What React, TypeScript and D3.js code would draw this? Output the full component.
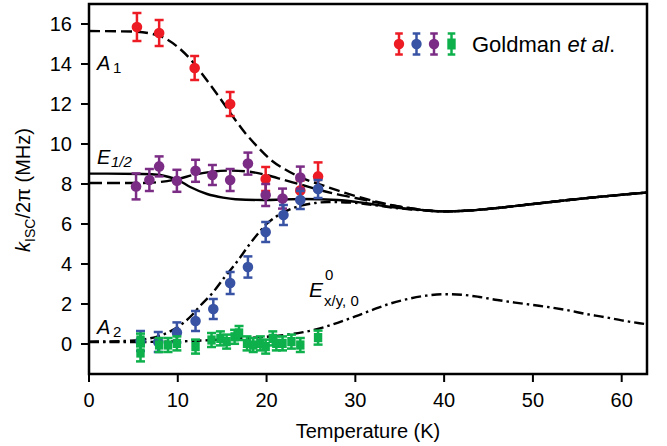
import React from 'react';
import * as d3 from 'd3';

// ---------- axis ticks ----------
const xTicks = [0, 10, 20, 30, 40, 50, 60];
const yTicks = [0, 2, 4, 6, 8, 10, 12, 14, 16];

// ---------- model curves (Temperature K, k/2π MHz) ----------
const tailT = [40, 43, 46, 50, 54, 58, 63];
const tailK = [6.63, 6.68, 6.8, 7.0, 7.2, 7.38, 7.58];

const a1T = [0, 5, 7, 8.5, 10, 11.5, 13, 14.5, 16, 17.5, 19, 20.5, 22, 24, 26, 28, 30, 33, 36];
const a1K = [15.65, 15.62, 15.52, 15.3, 14.85, 14.2, 13.35, 12.45, 11.5, 10.6, 9.85, 9.2, 8.75, 8.3, 7.98, 7.68, 7.4, 7.05, 6.8];

const eSolidT = [0, 6, 8, 9, 10, 11.4, 13.3, 15.1, 16.5, 19.6, 24, 28, 31, 34, 37];
const eSolidK = [8.52, 8.5, 8.45, 8.35, 8.2, 7.85, 7.5, 7.32, 7.24, 7.2, 7.25, 7.2, 7.05, 6.85, 6.72];

const eDashT = [0, 6, 8, 10, 12, 14, 16, 18, 20, 22, 24, 26, 28, 30, 33, 36];
const eDashK = [8.05, 8.05, 8.1, 8.25, 8.48, 8.62, 8.67, 8.62, 8.45, 8.2, 7.95, 7.7, 7.48, 7.3, 7.02, 6.8];

const a2T = [0, 4, 6, 7.6, 9, 10, 11.5, 12.5, 14, 15.2, 16.3, 17.3, 18.1, 19, 20, 21, 22, 23, 24, 25.5, 27, 29.5, 32, 35, 38];
const a2K = [0.12, 0.15, 0.22, 0.36, 0.6, 0.85, 1.4, 1.9, 2.6, 3.3, 3.9, 4.5, 5.0, 5.5, 6.0, 6.35, 6.6, 6.8, 6.93, 7.05, 7.1, 7.07, 6.95, 6.78, 6.67];

const exyT = [0, 5, 10, 14, 17, 20, 22, 24, 26, 28, 30, 32, 34, 36, 38, 40, 42, 44, 46, 48, 50, 52, 54, 56, 58, 60, 62, 63];
const exyK = [0.1, 0.1, 0.13, 0.2, 0.28, 0.36, 0.45, 0.58, 0.78, 1.06, 1.38, 1.72, 2.03, 2.26, 2.42, 2.49, 2.46, 2.35, 2.2, 2.07, 1.95, 1.83, 1.68, 1.5, 1.35, 1.18, 1.04, 0.98];

// ---------- Goldman et al. data ----------
const redT = [5.4, 7.9, 11.9, 15.9, 19.9, 23.8, 25.8];
const redK = [15.85, 15.55, 13.8, 12.0, 8.25, 7.68, 8.38];
const redErr = [0.7, 0.65, 0.6, 0.6, 0.6, 0.5, 0.7];

const purpleT = [5.3, 6.8, 7.9, 9.9, 12.0, 13.9, 15.9, 17.9, 19.9, 21.8, 23.8];
const purpleK = [7.88, 8.2, 8.88, 8.16, 8.66, 8.45, 8.2, 9.02, 7.45, 7.27, 8.32];
const purpleErr = [0.65, 0.55, 0.5, 0.55, 0.55, 0.5, 0.55, 0.55, 0.55, 0.5, 0.55];

const blueT = [5.8, 7.8, 9.9, 12.0, 14.0, 15.9, 17.9, 19.9, 21.9, 23.8, 25.8];
const blueK = [0.15, 0.1, 0.58, 1.15, 1.75, 3.05, 3.85, 5.6, 6.45, 7.2, 7.75];
const blueErr = [0.5, 0.5, 0.5, 0.5, 0.5, 0.55, 0.53, 0.5, 0.5, 0.45, 0.45];

const greenT = [5.8, 5.8, 7.9, 8.9, 9.9, 12.0, 13.8, 14.8, 15.5, 16.4, 16.9, 17.8, 18.5, 19.3, 19.9, 20.7, 21.1, 21.8, 22.8, 23.8, 25.8];
const greenK = [0.2, -0.45, -0.05, -0.05, 0.03, -0.13, 0.2, 0.28, 0.12, 0.36, 0.55, 0.03, -0.05, 0.03, -0.13, 0.28, 0.03, 0.03, 0.12, -0.05, 0.32];
const greenErr = [0.32, 0.42, 0.35, 0.35, 0.35, 0.35, 0.35, 0.35, 0.35, 0.35, 0.35, 0.35, 0.35, 0.35, 0.35, 0.35, 0.35, 0.35, 0.35, 0.35, 0.35];

const RED = '#ED1C24';
const BLUE = '#3953A4';
const PURPLE = '#7B2C85';
const GREEN = '#0DB04B';

const FONT = '"Liberation Sans", Arial, Helvetica, sans-serif';

function zip(a: number[], b: number[]): [number, number][] {
  return a.map((v, i) => [v, b[i]]);
}

export default function App() {
  const x = d3.scaleLinear().domain([0, 62.85]).range([89, 647]);
  const y = d3.scaleLinear().domain([-1.5, 17]).range([374, 4]);
  const line = d3
    .line<[number, number]>()
    .x((d) => x(d[0]))
    .y((d) => y(d[1]))
    .curve(d3.curveMonotoneX);

  const withTail = (t: number[], k: number[]) => zip(t.concat(tailT), k.concat(tailK));

  const curves = [
    { d: withTail(a1T, a1K), dash: '11,5' },
    { d: withTail(eDashT, eDashK), dash: '13,5' },
    { d: withTail(eSolidT, eSolidK), dash: '' },
    { d: withTail(a2T, a2K), dash: '10,4,2.5,4' },
    { d: zip(exyT, exyK), dash: '10,4,2.5,4' },
  ];

  const circlePts = (t: number[], k: number[], e: number[], color: string, key: string) =>
    t.map((tv, i) => {
      const cx = x(tv);
      const cy = y(k[i]);
      const y1 = y(k[i] + e[i]);
      const y2 = y(k[i] - e[i]);
      return (
        <g key={key + i}>
          <line x1={cx} x2={cx} y1={y1} y2={y2} stroke={color} strokeWidth={2.5} />
          <line x1={cx - 4.5} x2={cx + 4.5} y1={y1} y2={y1} stroke={color} strokeWidth={2.5} />
          <line x1={cx - 4.5} x2={cx + 4.5} y1={y2} y2={y2} stroke={color} strokeWidth={2.5} />
          <circle cx={cx} cy={cy} r={5.3} fill={color} />
        </g>
      );
    });

  const squarePts = (t: number[], k: number[], e: number[], color: string, key: string) =>
    t.map((tv, i) => {
      const cx = x(tv);
      const cy = y(k[i]);
      const y1 = y(k[i] + e[i]);
      const y2 = y(k[i] - e[i]);
      return (
        <g key={key + i}>
          <line x1={cx} x2={cx} y1={y1} y2={y2} stroke={color} strokeWidth={2.5} />
          <line x1={cx - 4.5} x2={cx + 4.5} y1={y1} y2={y1} stroke={color} strokeWidth={2.5} />
          <line x1={cx - 4.5} x2={cx + 4.5} y1={y2} y2={y2} stroke={color} strokeWidth={2.5} />
          <rect x={cx - 4.2} y={cy - 4.6} width={8.4} height={9.2} fill={color} />
        </g>
      );
    });

  const legendColors = [RED, BLUE, PURPLE, GREEN];
  const legendX = [399, 416.5, 434, 451.5];

  return (
    <svg
      width={667}
      height={446}
      style={{ position: 'absolute', left: 0, top: 0, background: '#fff' }}
      fontFamily={FONT}
    >
      <defs>
        <clipPath id="plotClip">
          <rect x={x(0)} y={y(17)} width={x(62.85) - x(0)} height={y(-1.5) - y(17)} />
        </clipPath>
      </defs>

      {/* curves */}
      <g clipPath="url(#plotClip)" fill="none" stroke="#000" strokeWidth={2.4}>
        {curves.map((c, i) => (
          <path key={i} d={line(c.d) || ''} strokeDasharray={c.dash || undefined} />
        ))}
      </g>

      {/* data */}
      <g clipPath="url(#plotClip)">
        {circlePts(redT, redK, redErr, RED, 'r')}
        {circlePts(purpleT, purpleK, purpleErr, PURPLE, 'p')}
        {circlePts(blueT, blueK, blueErr, BLUE, 'b')}
        {squarePts(greenT, greenK, greenErr, GREEN, 'g')}
      </g>

      {/* frame */}
      <rect
        x={x(0)}
        y={y(17)}
        width={x(62.85) - x(0)}
        height={y(-1.5) - y(17)}
        fill="none"
        stroke="#000"
        strokeWidth={2.5}
      />

      {/* x ticks */}
      {xTicks.map((t) => (
        <g key={'xt' + t}>
          <line x1={x(t)} x2={x(t)} y1={y(-1.5)} y2={y(-1.5) + 8} stroke="#000" strokeWidth={2} />
          <text x={x(t)} y={407} textAnchor="middle" fontSize={20} fill="#000">
            {t}
          </text>
        </g>
      ))}
      {/* y ticks */}
      {yTicks.map((t) => (
        <g key={'yt' + t}>
          <line x1={x(0) - 8} x2={x(0)} y1={y(t)} y2={y(t)} stroke="#000" strokeWidth={2} />
          <text x={72} y={y(t) + 7} textAnchor="end" fontSize={20} fill="#000">
            {t}
          </text>
        </g>
      ))}

      {/* axis titles */}
      <text x={368} y={438} textAnchor="middle" fontSize={20} fill="#000">
        Temperature (K)
      </text>
      <text
        transform="translate(30,190) rotate(-90)"
        textAnchor="middle"
        fontSize={20}
        fill="#000"
      >
        <tspan fontStyle="italic">k</tspan>
        <tspan fontSize={14} dy={5}>ISC</tspan>
        <tspan dy={-5}>/2π (MHz)</tspan>
      </text>

      {/* curve labels */}
      <text x={97} y={70} fontSize={20} fontStyle="italic" fill="#000">A</text>
      <text x={113} y={73} fontSize={15} fill="#000">1</text>

      <text x={97} y={164} fontSize={20} fontStyle="italic" fill="#000">E</text>
      <text x={111} y={167} fontSize={15} fontStyle="italic" fill="#000">1/2</text>

      <text x={97} y={334} fontSize={20} fontStyle="italic" fill="#000">A</text>
      <text x={113} y={337} fontSize={15} fill="#000">2</text>

      <text x={309} y={297} fontSize={21} fontStyle="italic" fill="#000">E</text>
      <text x={325} y={280} fontSize={15} fill="#000">0</text>
      <text x={324} y={306} fontSize={15} fill="#000">x/y, 0</text>

      {/* legend */}
      {legendColors.map((c, i) => {
        const cx = legendX[i];
        const cy = 44;
        return (
          <g key={'lg' + i}>
            <line x1={cx} x2={cx} y1={33.5} y2={54.5} stroke={c} strokeWidth={2.5} />
            <line x1={cx - 3.8} x2={cx + 3.8} y1={33.5} y2={33.5} stroke={c} strokeWidth={2.5} />
            <line x1={cx - 3.8} x2={cx + 3.8} y1={54.5} y2={54.5} stroke={c} strokeWidth={2.5} />
            {i < 3 ? (
              <circle cx={cx} cy={cy} r={5.2} fill={c} />
            ) : (
              <rect x={cx - 4.2} y={cy - 5.5} width={8.4} height={11} fill={c} />
            )}
          </g>
        );
      })}
      <text x={472} y={51.5} fontSize={22} fill="#000">
        Goldman <tspan fontStyle="italic">et al</tspan>.
      </text>
    </svg>
  );
}
